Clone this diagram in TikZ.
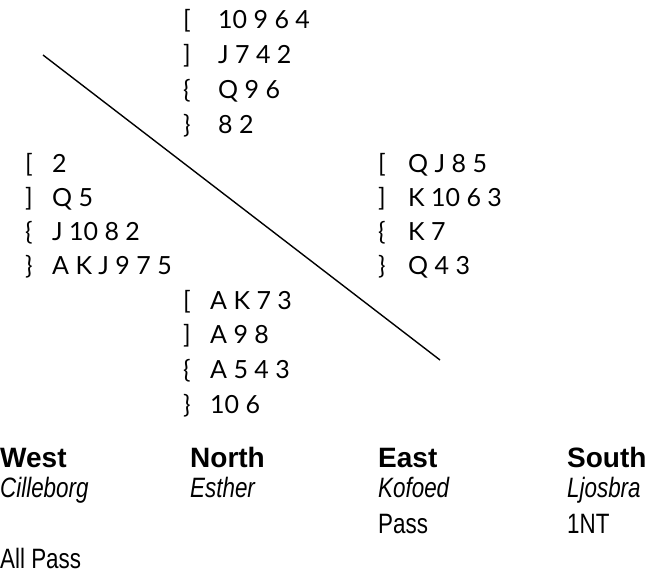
\documentclass[tikz,border=0pt]{standalone}
\usepackage{fontspec}
\setmainfont{Lato}
\newfontfamily\bidfont[FakeStretch=0.8]{Liberation Sans}
\newfontfamily\headfont{Liberation Sans}
\newcommand{\spd}{[}
\newcommand{\hrt}{]}
\newcommand{\dmd}{\{}
\newcommand{\clb}{\}}
\begin{document}
\begin{tikzpicture}[x = 1pt, y = -1pt,
    holding/.style = {anchor = base west, inner sep = 0pt, font = \fontsize{25}{30}\selectfont},
    seat/.style = {anchor = base west, inner sep = 0pt, font = \fontsize{28}{30}\selectfont\headfont\bfseries},
    player/.style = {anchor = base west, inner sep = 0pt, font = \fontsize{28}{30}\selectfont\bidfont\itshape},
    call/.style = {anchor = base west, inner sep = 0pt, font = \fontsize{28}{30}\selectfont\bidfont}]
    \useasboundingbox (0,0) rectangle (657,574);

    % the four hands
    \foreach \s/\h [count = \i] in {\spd/10 9 6 4, \hrt/J 7 4 2, \dmd/Q 9 6, \clb/8 2}
        \node[holding] (north-\i) at (183,{28 + 35*(\i - 1)}) {\makebox[35pt][l]{\s}\h};
    \foreach \s/\h [count = \i] in {\spd/2, \hrt/Q 5, \dmd/J 10 8 2, \clb/A K J 9 7 5}
        \node[holding] (west-\i) at (25,{172 + 34*(\i - 1)}) {\makebox[27pt][l]{\s}\h};
    \foreach \s/\h [count = \i] in {\spd/Q J 8 5, \hrt/K 10 6 3, \dmd/K 7, \clb/Q 4 3}
        \node[holding] (east-\i) at (378,{172 + 34*(\i - 1)}) {\makebox[30pt][l]{\s}\h};
    \foreach \s/\h [count = \i] in {\spd/A K 7 3, \hrt/A 9 8, \dmd/A 5 4 3, \clb/10 6}
        \node[holding] (south-\i) at (183,{309 + 34.7*(\i - 1)}) {\makebox[27pt][l]{\s}\h};

    \coordinate (slash-a) at (43,55);
    \coordinate (slash-b) at (440,360);
    \draw[line width = 1.4pt] (slash-a) -- (slash-b);

    % auction
    \node[seat] (w-seat) at (0,467) {West};
    \node[seat] (n-seat) at (190,467) {North};
    \node[seat] (e-seat) at (378,467) {East};
    \node[seat] (s-seat) at (567,467) {South};
    \node[player] (w-name) at (0,497) {Cilleborg};
    \node[player] (n-name) at (190,497) {Esther};
    \node[player] (e-name) at (378,497) {Kofoed};
    \node[player] (s-name) at (567,497) {Ljosbra};
    \node[call] (e-call) at (378,533) {Pass};
    \node[call] (s-call) at (567,533) {1NT};
    \node[call] (w-call) at (0,568) {All Pass};
\end{tikzpicture}
\end{document}
